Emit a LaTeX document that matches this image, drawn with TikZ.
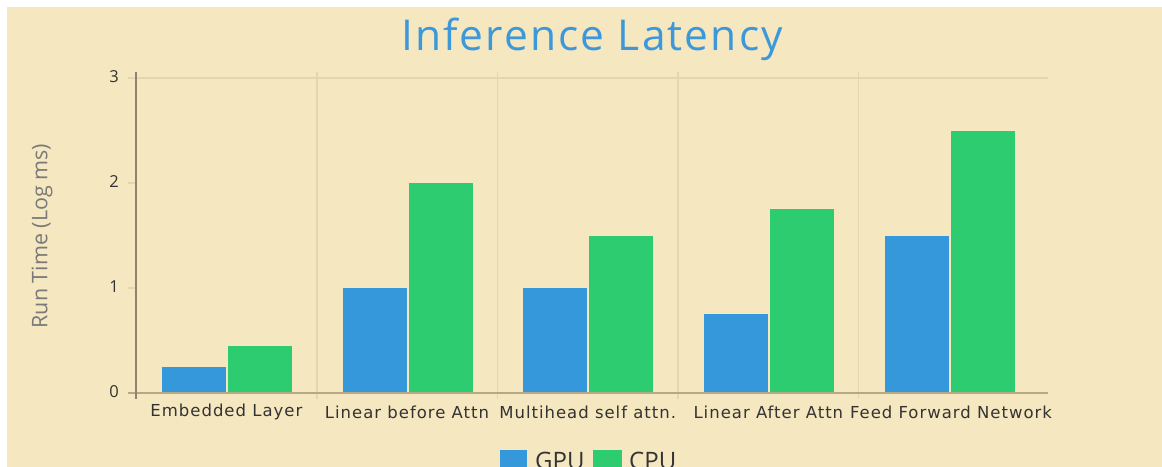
\documentclass[tikz,border=0pt]{standalone}
\usepackage{fontspec}
\setmainfont{Open Sans}
\newfontfamily\catfont[LetterSpace=6]{DejaVu Sans}
\newfontfamily\titlefont[LetterSpace=5]{Open Sans}
\definecolor{panel}{HTML}{F5E7C0}
\definecolor{gpu}{HTML}{3498DB}
\definecolor{cpu}{HTML}{2ECC71}
\definecolor{titleblue}{HTML}{3D98DA}
\definecolor{gridc}{HTML}{E4D6AF}
\definecolor{axisc}{HTML}{8C846E}
\definecolor{baseax}{HTML}{B4A888}
\definecolor{labelc}{HTML}{333333}
\definecolor{ylabc}{HTML}{7A7A7A}
\begin{document}
\begin{tikzpicture}[x=1pt,y=-1pt,
  ticklab/.style={font=\fontsize{16.5}{16}\selectfont, text=labelc, anchor=east, inner sep=0pt},
  catlab/.style={font=\catfont\fontsize{16.5}{17}\selectfont, text=labelc, fill=panel, inner xsep=1pt, inner ysep=0pt},
  legtext/.style={font=\fontsize{24}{24}\selectfont, text=labelc, anchor=west, inner sep=0pt}]
\useasboundingbox (0,0) rectangle (1162,466);
\clip (0,0) rectangle (1162,466);
\fill[white] (0,0) rectangle (1162,466);
\fill[panel] (7,7) rectangle (1162,470);

% title
\node (title) at (592,39) {\titlefont\fontsize{42.5}{42}\selectfont\color{titleblue}Inference Latency};

% y axis label
\node[rotate=90, font=\fontsize{21.5}{21}\selectfont, text=ylabc] (ylab) at (42,236) {Run Time (Log ms)};

% grid: top line, category separators, minor ticks
\draw[gridc, line width=1.6pt] (128,78) -- (1048,78);
\foreach \xx in {317,497.5,678,858.5}
  \draw[gridc, line width=1.6pt] (\xx,72) -- (\xx,399);
\foreach \yy in {183,288}
  \draw[gridc, line width=1.4pt] (128,\yy) -- (136,\yy);

% tick labels
\node[ticklab] (t3) at (119,77) {3};
\node[ticklab] (t2) at (119,182) {2};
\node[ticklab] (t1) at (119,287) {1};
\node[ticklab] (t0) at (119,392) {0};

% bars: category start, gpu value, cpu value
\foreach \cs/\g/\c in {136/0.25/0.45, 316.7/1/2, 497.4/1/1.5, 678.1/0.75/1.75, 858.8/1.5/2.5}{
  \fill[gpu] (\cs+26,393) rectangle (\cs+90,393-105*\g);
  \fill[cpu] (\cs+92,393) rectangle (\cs+156,393-105*\c);
}

% axes
\draw[baseax, line width=1.8pt] (128,393) -- (1048,393);
\draw[axisc, line width=1.8pt] (136,72) -- (136,399);

% category labels
\node[catlab] (c1) at (226.4,412) {Embedded Layer};
\node[catlab] (c2) at (407,412) {Linear before Attn};
\node[catlab] (c3) at (587.7,412) {Multihead self attn.};
\node[catlab] (c4) at (768.4,412) {Linear After Attn};
\node[catlab] (c5) at (951,412) {Feed Forward Network};

% legend
\fill[gpu] (500,450) rectangle (527,475);
\node[legtext] (lg) at (535,460.5) {GPU};
\fill[cpu] (593,450) rectangle (622,475);
\node[legtext] (lc) at (629,460.5) {CPU};
\end{tikzpicture}
\end{document}
